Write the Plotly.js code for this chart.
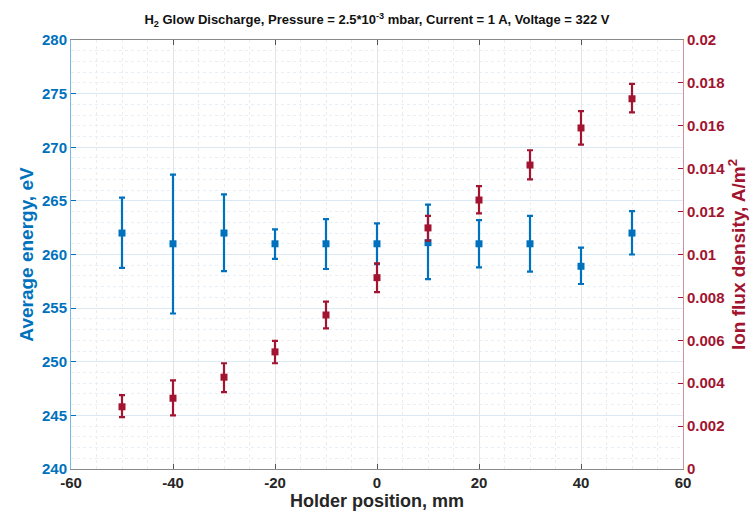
<!DOCTYPE html>
<html>
<head>
<meta charset="utf-8">
<script src="https://cdn.plot.ly/plotly-3.0.1.min.js"></script>
<style>html,body{margin:0;padding:0;background:#fff;}#chart{width:749px;height:520px;}</style>
</head>
<body>
<div id="chart"></div>
<script>
// Holder positions (mm)
const positions = [-50, -40, -30, -20, -10, 0, 10, 20, 30, 40, 50];
// Average energy (eV) with error bar ends
const energy     = [262, 261, 262, 261, 261, 261, 261.1, 261, 261, 258.9, 262];
const energyHigh = [265.3, 267.45, 265.6, 262.35, 263.3, 262.9, 264.65, 263.2, 263.6, 260.65, 264.05];
const energyLow  = [258.75, 254.5, 258.45, 259.6, 258.65, 259.1, 257.7, 258.8, 258.4, 257.25, 260.0];
// Ion flux density (A/m^2) with error bar ends
const flux     = [0.0029, 0.0033, 0.00428, 0.00546, 0.00718, 0.00892, 0.01124, 0.01254, 0.01417, 0.0159, 0.01726];
const fluxHigh = [0.00344, 0.00413, 0.00493, 0.00597, 0.0078, 0.00959, 0.0118, 0.01319, 0.01486, 0.01668, 0.01795];
const fluxLow  = [0.00242, 0.0025, 0.00358, 0.00493, 0.00656, 0.00825, 0.01065, 0.01192, 0.0135, 0.01512, 0.01663];
// Tick labels
const xTickVals = [-60, -40, -20, 0, 20, 40, 60];
const xTickText = ['-60', '-40', '-20', '0', '20', '40', '60'];
const fluxTickVals = [0, 0.002, 0.004, 0.006, 0.008, 0.01, 0.012, 0.014, 0.016, 0.018, 0.02];
const fluxTickText = ['0', '0.002', '0.004', '0.006', '0.008', '0.01', '0.012', '0.014', '0.016', '0.018', '0.02'];

const BLUE = '#0072BD';
const RED = '#A2142F';
const FONT = 'Liberation Sans, Arial, Helvetica, sans-serif';

const energyPlus = energyHigh.map((h, i) => h - energy[i]);
const energyMinus = energyLow.map((l, i) => energy[i] - l);
const fluxPlus = fluxHigh.map((h, i) => h - flux[i]);
const fluxMinus = fluxLow.map((l, i) => flux[i] - l);

const traces = [
  {
    x: positions, y: energy, type: 'scatter', mode: 'markers', yaxis: 'y',
    marker: {symbol: 'square', size: 7, color: BLUE},
    error_y: {type: 'data', symmetric: false, array: energyPlus, arrayminus: energyMinus,
              color: BLUE, thickness: 2.2, width: 3},
    showlegend: false
  },
  {
    x: positions, y: flux, type: 'scatter', mode: 'markers', yaxis: 'y2',
    marker: {symbol: 'square', size: 7, color: RED},
    error_y: {type: 'data', symmetric: false, array: fluxPlus, arrayminus: fluxMinus,
              color: RED, thickness: 2.2, width: 3},
    showlegend: false
  }
];

const layout = {
  width: 749, height: 520,
  margin: {l: 71, r: 66, t: 40, b: 51},
  paper_bgcolor: '#ffffff', plot_bgcolor: '#ffffff',
  font: {family: FONT, size: 15, color: '#262626'},
  title: {
    text: '<b>H<sub>2</sub> Glow Discharge, Pressure = 2.5*10<sup>-3</sup> mbar, Current = 1 A, Voltage = 322 V</b>',
    font: {family: FONT, size: 13, color: '#111111'},
    x: 0.5, xref: 'paper', y: 0.962, yref: 'container', yanchor: 'middle'
  },
  xaxis: {
    range: [-60, 60], tickmode: 'array', tickvals: xTickVals, ticktext: xTickText,
    ticks: 'inside', ticklen: 5, tickcolor: '#555555', tickwidth: 1,
    showline: true, linecolor: '#8a8a8a', linewidth: 1, mirror: 'ticks',
    showgrid: true, gridcolor: '#e4e4e4', gridwidth: 1,
    minor: {dtick: 5, showgrid: true, gridcolor: '#ececec', griddash: 'dot', ticks: ''},
    zeroline: false,
    tickfont: {family: FONT, size: 15, color: '#262626', weight: 'bold'},
    title: {text: '<b>Holder position, mm</b>', font: {family: FONT, size: 18, color: '#262626'}, standoff: 3}
  },
  yaxis: {
    range: [240, 280], dtick: 5, tick0: 240,
    ticks: 'inside', ticklen: 5, tickcolor: BLUE, tickwidth: 1,
    showline: true, linecolor: '#7db6dd', linewidth: 1,
    showgrid: true, gridcolor: '#dbe9f4', gridwidth: 1,
    minor: {dtick: 1, showgrid: true, gridcolor: '#e8f0f7', griddash: 'dot', ticks: ''},
    zeroline: false,
    tickfont: {family: FONT, size: 15, color: BLUE, weight: 'bold'},
    title: {text: '<b>Average energy, eV</b>', font: {family: FONT, size: 19, color: BLUE}, standoff: 3}
  },
  yaxis2: {
    range: [0, 0.02], tickmode: 'array', tickvals: fluxTickVals, ticktext: fluxTickText,
    overlaying: 'y', side: 'right',
    ticks: 'inside', ticklen: 5, tickcolor: RED, tickwidth: 1,
    showline: true, linecolor: '#d3909d', linewidth: 1,
    showgrid: false, zeroline: false,
    tickfont: {family: FONT, size: 15, color: RED, weight: 'bold'},
    title: {text: '<b>Ion flux density, A/m<sup>2</sup></b>', font: {family: FONT, size: 19, color: RED}, standoff: 20}
  }
};

Plotly.newPlot('chart', traces, layout, {displayModeBar: false, staticPlot: true});
</script>
</body>
</html>
